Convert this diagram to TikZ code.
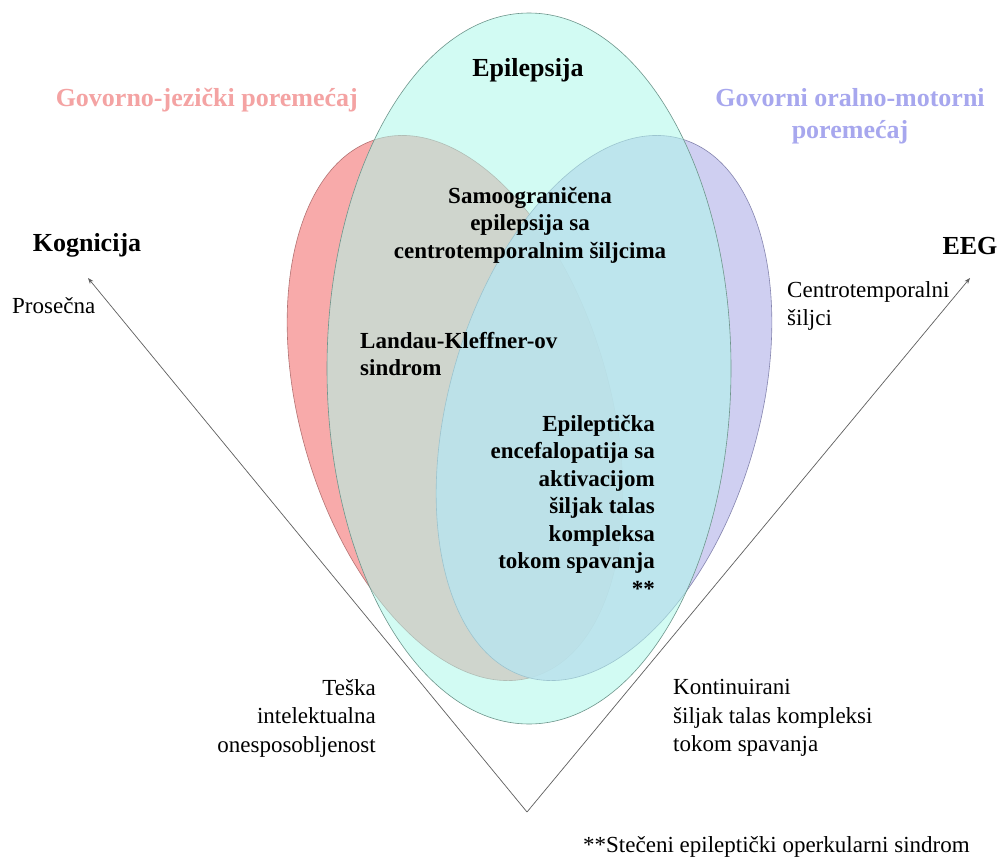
\documentclass[tikz,border=0pt]{standalone}
\usepackage{fontspec}
\setmainfont{Liberation Serif}
\usetikzlibrary{arrows.meta}
\definecolor{redfill}{RGB}{248,170,170}
\definecolor{redline}{RGB}{180,115,115}
\definecolor{purfill}{RGB}{201,201,240}
\definecolor{purline}{RGB}{120,120,165}
\definecolor{tealfill}{RGB}{175,248,234}
\definecolor{tealline}{RGB}{110,150,140}
\definecolor{pinktext}{RGB}{244,163,163}
\definecolor{lavtext}{RGB}{167,167,238}
\definecolor{axisgray}{RGB}{95,95,95}
\begin{document}
\begin{tikzpicture}[x=1pt,y=-1pt,
  hdr/.style={font=\bfseries\fontsize{26}{32}\selectfont, inner sep=0pt},
  lblb/.style={font=\bfseries\fontsize{23}{27.5}\selectfont, inner sep=0pt},
  lbl/.style={font=\fontsize{23}{28.5}\selectfont, inner sep=0pt},
  axisline/.style={draw=axisgray, line width=0.7pt, -{Stealth[length=6pt,width=4.5pt]}},
  setline/.style={line width=0.6pt}
]
\path[use as bounding box] (0,0) rectangle (1000,859);
\fill[white] (0,0) rectangle (1000,859);

% sets
\draw[setline, fill=redfill, draw=redline, rotate around={16:(455,408)}]
  (455,408) ellipse [x radius=155, y radius=280];
\draw[setline, fill=purfill, draw=purline, fill opacity=0.88, draw opacity=0.88,
  rotate around={-16:(604,408)}]
  (604,408) ellipse [x radius=155, y radius=280];
\draw[setline, fill=tealfill, fill opacity=0.56, draw=tealline]
  (529,368.5) ellipse [x radius=202, y radius=355.5];

% axes
\coordinate (v) at (527,812);
\coordinate (ktip) at (88,278);
\coordinate (etip) at (970,278);
\draw[axisline] (v) -- (ktip);
\draw[axisline] (v) -- (etip);

% headers
\node[hdr] (epi) at (528,70) {Epilepsija};
\node[hdr, text=pinktext, anchor=east] (gj) at (358,100) {Govorno-jezički poremećaj};
\node[hdr, text=lavtext, align=center] (gom) at (850,116) {Govorni oralno-motorni\\poremećaj};
\node[hdr] (kog) at (87,245) {Kognicija};
\node[hdr] (eeg) at (970,246) {EEG};

% axis labels
\node[lbl, anchor=west] (pros) at (12,306) {Prosečna};
\node[lbl, anchor=west, align=left] (ct) at (787,306) {Centrotemporalni\\šiljci};
\node[lbl, anchor=east, align=right] (teska) at (376,718) {Teška\\intelektualna\\onesposobljenost};
\node[lbl, anchor=west, align=left] (kont) at (673,718) {Kontinuirani\\šiljak talas kompleksi\\tokom spavanja};

% region labels
\node[lblb, align=center] (sam) at (530,225) {Samoograničena\\epilepsija sa\\centrotemporalnim šiljcima};
\node[lblb, anchor=west, align=left] (lk) at (360,354) {Landau-Kleffner-ov\\sindrom};
\node[lblb, anchor=east, align=right] (ee) at (655,505.5) {Epileptička\\encefalopatija sa\\aktivacijom\\šiljak talas\\kompleksa\\tokom spavanja\\**};

% footnote
\node[lbl, anchor=west] (fn) at (583,847) {**Stečeni epileptički operkularni sindrom};
\end{tikzpicture}
\end{document}
